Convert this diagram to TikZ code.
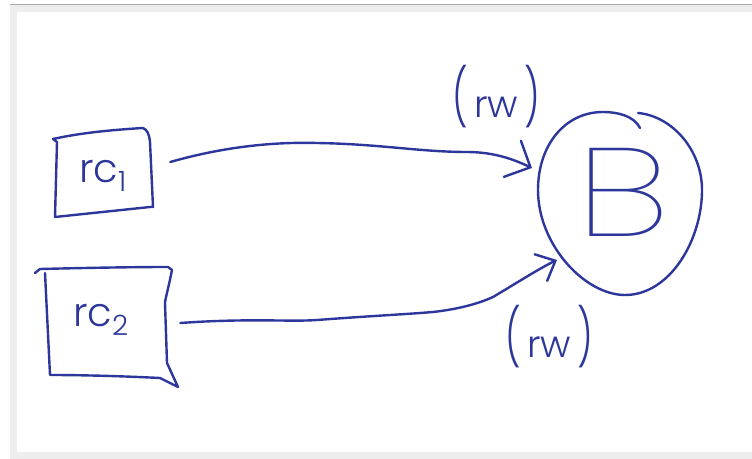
\documentclass[tikz,border=0pt]{standalone}
\usepackage{fontspec}
\newfontfamily\handfont{Poppins Light}
\newfontfamily\thinfont{Poppins Thin}
\usetikzlibrary{arrows.meta}
\usepackage{graphicx}
\definecolor{ink}{RGB}{45,55,155}
\definecolor{framegray}{RGB}{237,237,237}
\definecolor{framedark}{RGB}{170,170,170}
\begin{document}
\begin{tikzpicture}[x=0.75pt,y=-0.75pt,
  hand/.style={draw=ink, line width=1.8pt, line cap=round, line join=round},
  lbl/.style={text=ink, inner sep=0pt, font=\handfont\fontsize{30}{30}\selectfont},
  conntop/.style={hand, -{Straight Barb[length=15pt,width=30pt,line cap=round]}},
  connbot/.style={hand, -{Straight Barb[length=12pt,width=22pt,line cap=round]}}]
\useasboundingbox (0,0) rectangle (752,459);
% frame
\fill[white] (0,0) rectangle (752,459);
\fill[framegray] (10,4) rectangle (752,459);
\fill[white] (17,12) rectangle (752,452);
\draw[framedark, line width=0.75pt] (10,4.5) -- (752,4.5);

% nodes
\node[lbl, minimum width=75pt, minimum height=65pt] (rc1) at (103,176) {rc\textsubscript{1}};
\node[lbl, minimum width=90pt, minimum height=85pt] (rc2) at (101,320) {rc\textsubscript{2}};
\node[lbl, circle, minimum size=130pt, font=\thinfont\fontsize{94}{94}\selectfont] (B) at (623,192) {\scalebox{1.35}[1]{B}};
\node[lbl, font=\handfont\fontsize{28}{28}\selectfont] (rwtop) at (496,97) {\scalebox{1}[1.5]{(}\,rw\,\scalebox{1}[1.5]{)}};
\node[lbl, font=\handfont\fontsize{28}{28}\selectfont] (rwbot) at (549,337) {\scalebox{1}[1.5]{(}\,rw\,\scalebox{1}[1.5]{)}};

% hand-drawn outlines
\draw[hand] (53,139) -- (57,142) -- (55,217) -- (150,207) -- (153,207)
  -- (150,142) .. controls (149,133) and (147,130) .. (143,128)
  .. controls (110,130) and (80,133) .. (53,139);
\draw[hand] (35,273) -- (40,269) .. controls (80,268) and (130,267) .. (168,267)
  -- (172,270) .. controls (168,290) and (165,300) .. (165,303)
  -- (167,363) -- (178,387) -- (160,378) .. controls (120,376) and (80,375) .. (50,375)
  -- (45,273);
\draw[hand] (640,128) .. controls (634,116) and (618,112) .. (603,112)
  .. controls (565,112) and (538,145) .. (538,190)
  .. controls (538,245) and (585,295) .. (625,295)
  .. controls (670,295) and (702,240) .. (702,190)
  .. controls (702,150) and (672,116) .. (638,113);

% connectors
\coordinate (tip1) at (532,168);
\coordinate (tip2) at (557,260);
\draw[conntop] ([shift={(17,-14)}]rc1.east) .. controls (230,145) and (280,142) .. (317,143)
  .. controls (380,144) and (420,152) .. (467,152)
  .. controls (495,152) and (515,160) .. (tip1);
\draw[connbot] ([shift={(19,3)}]rc2.east) .. controls (250,318) and (290,322) .. (317,320)
  .. controls (370,316) and (410,314) .. (433,312)
  .. controls (460,309) and (480,303) .. (493,297)
  .. controls (515,284) and (540,268) .. (tip2);
\end{tikzpicture}
\end{document}
